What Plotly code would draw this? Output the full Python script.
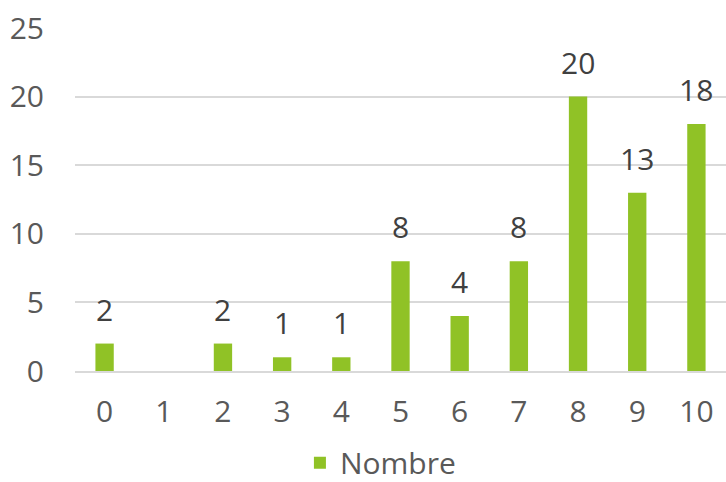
import plotly.graph_objects as go

categories = ["0", "1", "2", "3", "4", "5", "6", "7", "8", "9", "10"]
values = [2, None, 2, 1, 1, 8, 4, 8, 20, 13, 18]
series_name = "Nombre"
y_ticks = [0, 5, 10, 15, 20, 25]

FONT = "Open Sans"
GREEN = "#90C226"
FS = 30

fig = go.Figure()
fig.add_trace(go.Bar(
    x=categories, y=values, name=series_name,
    marker=dict(color=GREEN, line=dict(width=0)),
    showlegend=True,
))

for c, v in zip(categories, values):
    if v is None:
        continue
    fig.add_annotation(x=c, y=v, text=str(v), showarrow=False,
                       yanchor="bottom", yshift=12,
                       font=dict(family=FONT, size=FS, color="#404040"))

fig.update_layout(
    width=726, height=482,
    margin=dict(l=75, r=0, t=28, b=111, autoexpand=False),
    plot_bgcolor="white", paper_bgcolor="white",
    bargap=0.69,
    font=dict(family=FONT, size=FS, color="#595959"),
    xaxis=dict(type="category", showgrid=False, showline=True,
               linecolor="#D9D9D9", linewidth=2, automargin=False,
               ticks="outside", ticklen=0, ticklabelstandoff=13,
               tickfont=dict(family=FONT, size=FS, color="#595959")),
    yaxis=dict(range=[0, 25], tickvals=y_ticks, showgrid=True,
               gridcolor="#D9D9D9", gridwidth=2, zeroline=False,
               showline=False, ticks="outside", ticklen=0, automargin=False,
               ticklabelstandoff=24,
               tickfont=dict(family=FONT, size=FS, color="#595959")),
    legend=dict(orientation="h", xref="container", yref="container",
                x=0.524, y=0.04, xanchor="center", yanchor="middle",
                font=dict(family=FONT, size=FS, color="#595959"),
                itemwidth=30),
)

fig.write_html("out.html", config={"displayModeBar": False},
               post_script="document.body.style.margin='0';document.body.style.overflow='hidden';")
